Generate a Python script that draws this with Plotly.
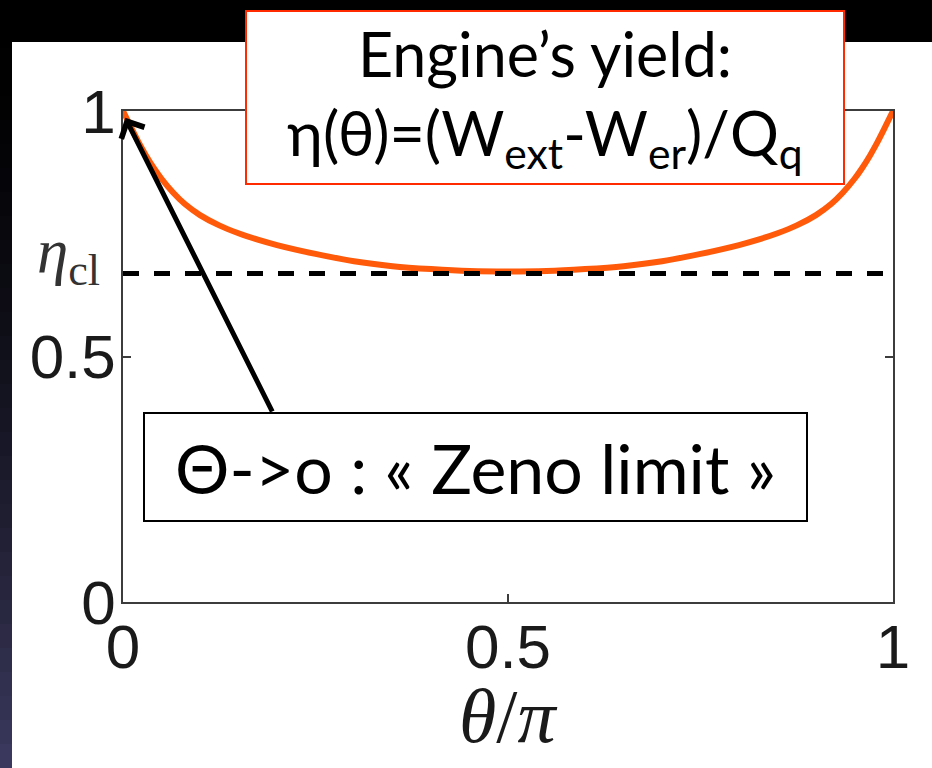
import plotly.graph_objects as go

# Engine yield eta(theta) versus theta/pi
theta_over_pi = [0.0, 0.01, 0.02, 0.03, 0.04, 0.05, 0.065, 0.08, 0.1, 0.125, 0.15, 0.175,
                 0.2, 0.25, 0.3, 0.35, 0.4, 0.45, 0.5, 0.55, 0.6, 0.65, 0.7, 0.75, 0.8,
                 0.825, 0.85, 0.875, 0.9, 0.92, 0.935, 0.95, 0.96, 0.97, 0.98, 0.99, 1.0]
eta = [1.0, 0.968, 0.937, 0.909, 0.884, 0.862, 0.834, 0.811, 0.788, 0.767, 0.751, 0.738,
       0.727, 0.709, 0.694, 0.684, 0.678, 0.674, 0.673, 0.674, 0.678, 0.684, 0.694, 0.709,
       0.727, 0.738, 0.751, 0.767, 0.788, 0.811, 0.834, 0.862, 0.884, 0.909, 0.937, 0.968,
       1.0]

# classical efficiency level
eta_cl = 0.669

x_tick_vals = [0, 0.5, 1]
x_tick_text = ["0", "0.5", "1"]
y_tick_vals = [0, 0.5, 1]
y_tick_text = ["0", "0.5", "1"]

W, H = 932, 768
L, R, T, B = 123, 39, 111, 166
pw, ph = W - L - R, H - T - B


def px_x(p):
    return (p - L) / pw


def px_y(p):
    return (H - B - p) / ph


fig = go.Figure()

fig.add_trace(go.Scatter(
    x=theta_over_pi, y=eta, mode="lines",
    line=dict(color="#ff5a0a", width=6, shape="spline", smoothing=0.8),
    showlegend=False, hoverinfo="skip"))

fig.add_trace(go.Scatter(
    x=[0, 1], y=[eta_cl, eta_cl], mode="lines",
    line=dict(color="black", width=5, dash="16px,15px"),
    showlegend=False, hoverinfo="skip"))

shapes = []
# black header band
shapes.append(dict(type="rect", xref="paper", yref="paper",
                   x0=px_x(0), x1=px_x(W), y0=px_y(42), y1=px_y(0),
                   fillcolor="black", line=dict(width=0), layer="below"))
# dark gradient strip on the left edge
n_bands = 32
c_top = (0, 0, 0)
c_bot = (58, 56, 92)
for i in range(n_bands):
    t = i / (n_bands - 1)
    t2 = t ** 1.6
    col = tuple(int(round(a + (b - a) * t2)) for a, b in zip(c_top, c_bot))
    y0p = H * i / n_bands
    y1p = H * (i + 1) / n_bands + 1
    shapes.append(dict(type="rect", xref="paper", yref="paper",
                       x0=px_x(0), x1=px_x(12), y0=px_y(y1p), y1=px_y(y0p),
                       fillcolor="rgb(%d,%d,%d)" % col, line=dict(width=0), layer="below"))

axis_common = dict(
    range=[0, 1], showline=True, linecolor="#3c3c3c", linewidth=1.5, mirror="ticks",
    ticks="inside", ticklen=8, tickwidth=1.5, tickcolor="#3c3c3c",
    showgrid=False, zeroline=False,
    tickfont=dict(family="Liberation Sans, Arial, sans-serif", size=62, color="#1a1a1a"),
)

fig.update_layout(
    width=W, height=H, margin=dict(l=L, r=R, t=T, b=B, pad=0),
    paper_bgcolor="white", plot_bgcolor="white",
    shapes=shapes,
    xaxis=dict(axis_common, tickvals=x_tick_vals, ticktext=x_tick_text,
               ticklabelstandoff=-10),
    yaxis=dict(axis_common, tickvals=y_tick_vals, ticktext=y_tick_text,
               ticklabelstandoff=-7),
)

annotations = []
# x-axis title
annotations.append(dict(
    xref="paper", yref="paper", x=0.5, y=px_y(716), xanchor="center", yanchor="middle",
    text="<i>θ</i>/<i>π</i>", showarrow=False,
    font=dict(family="Liberation Serif, serif", size=76, color="#1a1a1a")))
# eta_cl label on the left axis
annotations.append(dict(
    xref="paper", yref="y", x=px_x(102), y=eta_cl, xanchor="right", yanchor="middle",
    yshift=18,
    text="<i>η</i><sub>cl</sub>", showarrow=False,
    font=dict(family="Liberation Serif, serif", size=63, color="#333333")))
# arrow pointing at the theta -> 0 end of the curve
annotations.append(dict(
    xref="x", yref="y", axref="x", ayref="y",
    x=0.003, y=0.986, ax=px_x(273), ay=px_y(413),
    text="", showarrow=True, arrowhead=4, arrowsize=1, arrowwidth=5,
    arrowcolor="black", standoff=0))
# yield formula box
annotations.append(dict(
    xref="paper", yref="paper", x=px_x(545), y=px_y(95.5),
    xanchor="center", yanchor="middle", yshift=-2,
    text="Engine’s yield:<br>η(θ)=(W<sub>ext</sub>-W<sub>er</sub>)/Q<sub>q</sub>",
    showarrow=False, align="center", width=596, height=171, borderpad=0,
    bgcolor="white", bordercolor="#ff2a00", borderwidth=2,
    font=dict(family="Lato, Noto Sans, sans-serif", size=61, color="black")))
# Zeno limit box
annotations.append(dict(
    xref="paper", yref="paper", x=px_x(475.5), y=px_y(467),
    xanchor="center", yanchor="middle",
    text="Θ-&gt;o : « Zeno limit »",
    showarrow=False, align="center", width=661, height=106, borderpad=0,
    bgcolor="white", bordercolor="black", borderwidth=2,
    font=dict(family="Lato, Noto Sans, sans-serif", size=68, color="black")))

fig.update_layout(annotations=annotations)

fig.write_html("out.html")
